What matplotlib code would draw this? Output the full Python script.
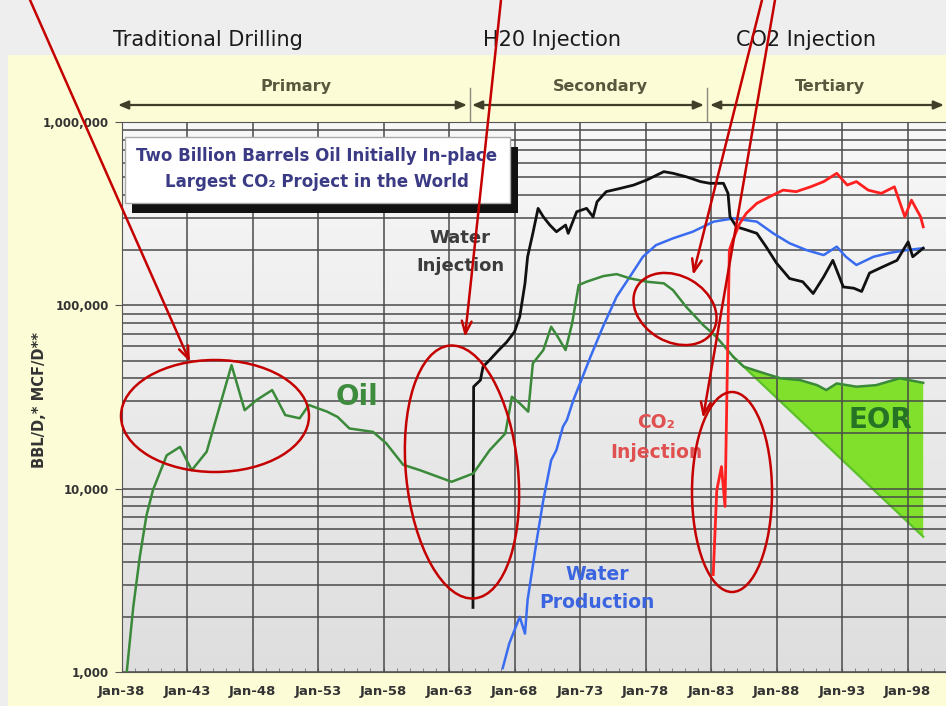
import numpy as np
import matplotlib
matplotlib.use("Agg")
import matplotlib.pyplot as plt
from matplotlib.patches import Rectangle, Ellipse
from matplotlib.colors import LinearSegmentedColormap
from matplotlib.ticker import FixedLocator, MultipleLocator, LogLocator, NullFormatter

# ---------------- data ----------------
oil_years = [1938.4, 1938.9, 1939.4, 1939.9, 1940.4, 1941.45, 1942.47, 1943.36, 1944.5, 1946.4,
             1947.4, 1948.3, 1949.5, 1950.5, 1951.6, 1952.3, 1953.7, 1954.5, 1955.4, 1957.2,
             1958.2, 1959.5, 1960.8, 1963.2, 1964.85, 1966.1, 1967.3, 1967.8, 1968.4, 1969.05,
             1969.4, 1970.2, 1970.8, 1971.3, 1971.9, 1972.4, 1972.9, 1973.5, 1974.8, 1975.8,
             1976.8, 1978.1, 1979.4, 1980.1, 1981.1, 1982.4, 1983.4, 1984.7, 1985.5, 1986.7,
             1988.3, 1989.8, 1991.1, 1991.8, 1992.6, 1994.1, 1995.6, 1997.4, 1999.2]
oil_vals = [1000, 2270, 4260, 7110, 9820, 15200, 16900, 12600, 15900, 47200,
            26800, 30400, 34500, 25200, 24200, 28600, 26300, 24600, 21300, 20400,
            17700, 13500, 12600, 10900, 12100, 16200, 20000, 31700, 29200, 26300,
            48200, 57000, 76400, 67400, 57000, 79800, 129000, 134500, 144500, 148000,
            140400, 134500, 131800, 121000, 98200, 78100, 67400, 52400, 46300, 43400,
            40000, 39100, 36700, 34500, 37500, 36000, 36700, 40000, 37800]

wi_years = [1964.83, 1964.88, 1965.4, 1965.6, 1966.1, 1966.8, 1967.4, 1968.0, 1968.4, 1968.8,
            1969.0, 1969.4, 1969.8, 1970.2, 1970.7, 1971.2, 1971.9, 1972.1, 1972.75, 1973.5,
            1974.0, 1974.3, 1975.0, 1976.05, 1977.1, 1978.1, 1979.4, 1980.1, 1981.1, 1982.2,
            1982.9, 1983.95, 1984.3, 1984.45, 1984.95, 1985.7, 1986.5, 1987.2, 1988.0, 1989.0,
            1990.0, 1990.8, 1991.6, 1992.3, 1993.1, 1993.9, 1994.5, 1995.1, 1996.1, 1997.2,
            1998.05, 1998.4, 1999.2]
wi_vals = [2250, 36000, 39100, 46300, 50300, 57000, 63000, 71700, 86600, 131800,
           184000, 247000, 338000, 304000, 274000, 252000, 274000, 247000, 324000, 338000,
           304000, 367000, 417000, 434000, 453000, 483000, 536000, 525000, 503000, 473000,
           463000, 463000, 408000, 304000, 268000, 258000, 247000, 209000, 170000, 140000,
           134500, 116000, 143000, 176000, 126000, 124000, 119000, 150000, 162000, 176000,
           222000, 184000, 205000]

wp_years = [1967.1, 1967.6, 1968.4, 1968.8, 1969.0, 1969.7, 1970.2, 1970.8, 1971.2, 1971.7,
            1972.0, 1972.5, 1973.0, 1973.8, 1974.75, 1975.8, 1976.8, 1977.8, 1978.8, 1980.1,
            1981.6, 1983.2, 1984.7, 1986.5, 1987.75, 1989.0, 1990.3, 1991.6, 1992.6, 1993.3,
            1994.1, 1995.4, 1996.6, 1997.9, 1999.2]
wp_vals = [1050, 1430, 2000, 1620, 2470, 5250, 8670, 14300, 16250, 21800,
           23700, 30500, 37500, 52400, 76400, 111600, 143000, 184000, 213000, 232000,
           252000, 286000, 298000, 286000, 247000, 218000, 200000, 188000, 209000, 184000,
           166000, 184000, 193000, 200000, 205000]

co2_years = [1983.17, 1983.44, 1983.8, 1984.07, 1984.4, 1984.7, 1985.2, 1985.7, 1986.5, 1987.5,
             1988.5, 1989.5, 1990.6, 1991.6, 1992.6, 1993.4, 1994.1, 1995.0, 1996.0, 1997.0,
             1997.8, 1998.3, 1999.0, 1999.2]
co2_vals = [3400, 9800, 13200, 8000, 200000, 230000, 280000, 318000, 360000, 392000,
            425000, 417000, 443000, 473000, 525000, 453000, 473000, 425000, 408000, 443000,
            304000, 375000, 304000, 268000]

# projected primary/secondary decline bounding the EOR wedge
base_years = [1984.7, 1999.2]
base_vals = [52400, 5470]

x_tick_years = [1938, 1943, 1948, 1953, 1958, 1963, 1968, 1973, 1978, 1983, 1988, 1993, 1998]
x_tick_labels = ["Jan-38", "Jan-43", "Jan-48", "Jan-53", "Jan-58", "Jan-63", "Jan-68",
                 "Jan-73", "Jan-78", "Jan-83", "Jan-88", "Jan-93", "Jan-98"]
y_tick_vals = [1000, 10000, 100000, 1000000]
y_tick_labels = ["1,000", "10,000", "100,000", "1,000,000"]

# ---------------- figure ----------------
W, H = 946, 706
fig = plt.figure(figsize=(W / 100, H / 100), dpi=100, facecolor="#eeeeee")
fig.add_artist(Rectangle((8 / W, 0), 1, (H - 55) / H, transform=fig.transFigure,
                         facecolor="#fcfcd6", edgecolor="none", zorder=-10))

pos = [121.5 / W, (H - 672) / H, (W - 121.5) / W, (672 - 122) / H]

bg = fig.add_axes(pos, zorder=0)
grad = np.linspace(0, 1, 256).reshape(-1, 1)
bg.imshow(grad, cmap=LinearSegmentedColormap.from_list("g", ["#f8f8f8", "#dedede"]),
          aspect="auto", extent=[0, 1, 0, 1])
bg.axis("off")

ax = fig.add_axes(pos, zorder=1)
ax.set_facecolor("none")
ax.set_yscale("log")
ax.set_xlim(1938, 1938 + (W - 121.5) / 13.1)
ax.set_ylim(1000, 1000000)
ax.set_axisbelow("line")

# EOR wedge
oy = np.array(oil_years)
ov_ = np.array(oil_vals)
m = oy >= base_years[0]
base_on_oil = 10 ** np.interp(oy[m], base_years, np.log10(base_vals))
ax.fill_between(oy[m], base_on_oil, ov_[m], facecolor="#80e02c", edgecolor="none", zorder=0.5)
ax.plot(base_years, base_vals, color="#5cc02a", lw=1.6, zorder=0.6)

ax.plot(wp_years, wp_vals, color="#3a6cf0", lw=1.8, zorder=3)
ax.plot(wi_years, wi_vals, color="#111111", lw=2.0, zorder=3)
ax.plot(oil_years, oil_vals, color="#3a8a3a", lw=1.8, zorder=3)
ax.plot(co2_years, co2_vals, color="#ff2020", lw=2.0, zorder=3)

ax.xaxis.set_major_locator(FixedLocator(x_tick_years))
ax.set_xticklabels(x_tick_labels)
ax.xaxis.set_minor_locator(MultipleLocator(1))
ax.yaxis.set_major_locator(FixedLocator(y_tick_vals))
ax.set_yticklabels(y_tick_labels)
ax.yaxis.set_minor_locator(LogLocator(base=10, subs=np.arange(2, 10)))
ax.yaxis.set_minor_formatter(NullFormatter())

ax.grid(True, which="major", axis="x", color="#4a4a4a", lw=1.1)
ax.grid(True, which="both", axis="y", color="#4a4a4a", lw=1.1)
for s in ax.spines.values():
    s.set_color("#555555")
ax.spines["right"].set_visible(False)

ax.tick_params(axis="x", which="major", direction="in", length=3, pad=9,
               labelsize=9.5, labelcolor="#333333", color="#555555")
ax.tick_params(axis="x", which="minor", direction="in", length=3, color="#777777")
ax.tick_params(axis="y", which="major", direction="out", length=5, pad=4,
               labelsize=8.5, labelcolor="#333333", color="#555555")
ax.tick_params(axis="y", which="minor", direction="in", length=3, color="#777777")
for lab in ax.get_xticklabels() + ax.get_yticklabels():
    lab.set_fontweight("bold")

fig.text(40 / W, 1 - 400 / H, "BBL/D,* MCF/D**", rotation=90, ha="center", va="center",
         fontsize=10.5, fontweight="bold", color="#333333")

# ---------------- overlay (pixel coordinates) ----------------
ov = fig.add_axes([0, 0, 1, 1], zorder=5)
ov.set_xlim(0, W)
ov.set_ylim(H, 0)
ov.axis("off")

# top phase titles
ov.text(208, 40, "Traditional Drilling", ha="center", va="center", fontsize=15, color="#1a1a1a")
ov.text(552, 40, "H20 Injection", ha="center", va="center", fontsize=15, color="#1a1a1a")
ov.text(806, 40, "CO2 Injection", ha="center", va="center", fontsize=15, color="#1a1a1a")

# phase arrows
pc = "#3f3f2a"
for (x0, x1, xt, lab) in [(118, 467, 296, "Primary"), (472, 704, 600, "Secondary"),
                          (710, 944, 830, "Tertiary")]:
    ov.annotate("", xy=(x1, 105), xytext=(x0, 105),
                arrowprops=dict(arrowstyle="<|-|>,head_length=0.6,head_width=0.25",
                                color=pc, lw=1.6, shrinkA=0, shrinkB=0), zorder=2)
    ov.text(xt, 87, lab, ha="center", va="center", fontsize=11.5, fontweight="bold",
            color="#58583f", zorder=2)
for xs in (469.5, 707):
    ov.plot([xs, xs], [88, 121], color="#8a8a80", lw=1.0, zorder=2)

# info box with shadow
ov.add_patch(Rectangle((132, 147), 386, 66, facecolor="#111111", edgecolor="none", zorder=2))
ov.add_patch(Rectangle((125, 137), 385, 66, facecolor="white", edgecolor="#aaaaaa", lw=1, zorder=2.1))
ov.text(317, 156, "Two Billion Barrels Oil Initially In-place", ha="center", va="center",
        fontsize=12, fontweight="bold", color="#3b3b85", zorder=2.2)
ov.text(317, 182, "Largest CO\u2082 Project in the World", ha="center", va="center",
        fontsize=12, fontweight="bold", color="#3b3b85", zorder=2.2)

# series labels
ov.text(460, 238, "Water", ha="center", va="center", fontsize=13, fontweight="bold", color="#3c3c3c")
ov.text(460, 266, "Injection", ha="center", va="center", fontsize=13, fontweight="bold", color="#3c3c3c")
ov.text(357, 397, "Oil", ha="center", va="center", fontsize=20, fontweight="bold", color="#3d8c3d")
ov.text(597, 575, "Water", ha="center", va="center", fontsize=13.5, fontweight="bold", color="#3a64e0")
ov.text(597, 603, "Production", ha="center", va="center", fontsize=13.5, fontweight="bold", color="#3a64e0")
ov.text(656, 423, "CO\u2082", ha="center", va="center", fontsize=13.5, fontweight="bold", color="#e05050")
ov.text(656, 452, "Injection", ha="center", va="center", fontsize=13.5, fontweight="bold", color="#e05050")
ov.text(880, 420, "EOR", ha="center", va="center", fontsize=20, fontweight="bold", color="#267326")

# red callouts
rc = "#c40000"
for (x0, y0, x1, y1) in [(30, 0, 190, 362), (501, 0, 465, 337), (762, 0, 693, 275), (775, 0, 703, 418)]:
    ov.annotate("", xy=(x1, y1), xytext=(x0, y0),
                arrowprops=dict(arrowstyle="->,head_length=0.9,head_width=0.35",
                                color=rc, lw=1.8, shrinkA=0, shrinkB=0), zorder=6)
for (cx, cy, w, h, ang) in [(215, 416, 188, 112, 0), (462, 472, 112, 254, -5.7),
                            (675, 309, 88, 66, 30), (732, 492, 80, 200, 0)]:
    ov.add_patch(Ellipse((cx, cy), w, h, angle=ang, fill=False, edgecolor=rc, lw=1.8, zorder=6))

fig.savefig("out.png", dpi=100, facecolor=fig.get_facecolor())
